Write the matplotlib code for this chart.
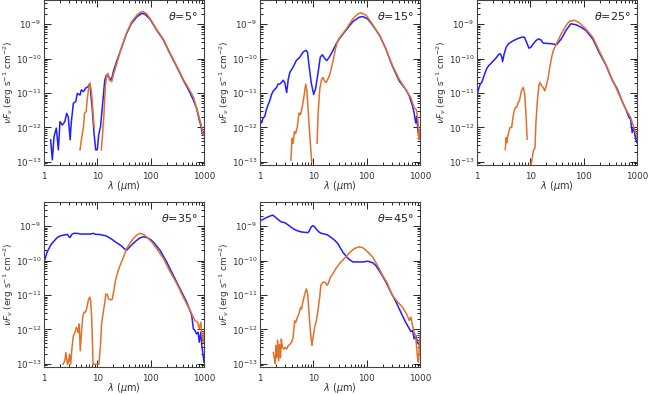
import numpy as np
import matplotlib
matplotlib.use("Agg")
import matplotlib.pyplot as plt
from matplotlib.ticker import LogLocator, NullFormatter, FixedFormatter, FixedLocator

nan = np.nan

# viewing angles, one panel each
angles = [5, 15, 25, 35, 45]

# log10(lambda / um) and log10(nuF_nu / erg s-1 cm-2)
p1_blue_x = [0.125, 0.156, 0.188, 0.231, 0.269, 0.30, 0.344, 0.39, 0.425, 0.456, 0.49, 0.51, 0.55, 0.594,
             0.625, 0.675, 0.70, 0.74, 0.78, 0.825, 0.86, 0.906, 0.938, 0.97, 1.0, 1.025, 1.06, 1.10, 1.14,
             1.17, 1.21, 1.25, 1.28, 1.30, 1.36, 1.46, 1.55, 1.64, 1.74, 1.83, 1.89, 1.99, 2.11, 2.24, 2.36,
             2.49, 2.61, 2.71, 2.80, 2.86, 2.91, 2.94, 2.975]
p1_blue_y = [-12.36, -12.94, -12.27, -12.02, -12.65, -11.83, -11.93, -11.83, -11.59, -11.70, -12.36, -11.88,
             -11.30, -11.25, -11.01, -11.06, -10.91, -10.96, -10.86, -10.82, -10.72, -11.49, -12.17, -12.65,
             -12.65, -12.22, -11.98, -11.30, -10.62, -10.48, -10.53, -10.62, -10.53, -10.38, -10.09, -9.66,
             -9.27, -8.98, -8.79, -8.69, -8.71, -8.86, -9.17, -9.46, -9.85, -10.24, -10.62, -10.91, -11.20,
             -11.44, -11.78, -11.93, -12.22]
p1_orng_x = [0.675, 0.706, 0.74, 0.76, 0.79, 0.81, 0.84, 0.86, 0.89, 0.92, 0.94, nan,
             1.075, 1.10, 1.125, 1.15, 1.175, 1.20, 1.225, 1.27, 1.30, 1.46, 1.55, 1.64, 1.74, 1.80, 1.86,
             1.92, 1.99, 2.11, 2.24, 2.36, 2.49, 2.61, 2.71, 2.80, 2.89, 2.94, 2.99, 3.0]
p1_orng_y = [-12.65, -12.31, -11.98, -11.59, -11.54, -11.20, -10.82, -10.72, -10.96, -11.59, -11.98, nan,
             -12.65, -12.17, -11.59, -10.82, -10.48, -10.43, -10.62, -10.67, -10.48, -9.64, -9.25, -8.94,
             -8.74, -8.66, -8.64, -8.69, -8.84, -9.15, -9.44, -9.83, -10.22, -10.60, -10.86, -11.11, -11.59,
             -11.88, -12.22, -12.15]

p2_blue_x = [0.0, 0.03, 0.06, 0.09, 0.12, 0.155, 0.19, 0.217, 0.25, 0.28, 0.31, 0.34, 0.37, 0.40, 0.435,
             0.465, 0.50, 0.53, 0.56, 0.62, 0.68, 0.745, 0.81, 0.86, 0.89, 0.92, 0.96, 1.006, 1.04, 1.09,
             1.13, 1.17, 1.21, 1.25, 1.30, 1.37, 1.43, 1.49, 1.61, 1.74, 1.86, 1.93, 2.02, 2.11, 2.24, 2.36,
             2.48, 2.61, 2.73, 2.80, 2.86, 2.89, 2.92, 2.94, 2.96, 2.98, 3.0]
p2_blue_y = [-11.77, -11.87, -11.72, -11.68, -11.48, -11.33, -11.19, -11.04, -10.94, -10.89, -10.84, -10.74,
             -10.74, -10.70, -10.63, -10.70, -10.99, -10.60, -10.40, -10.25, -10.06, -9.96, -9.81, -9.76,
             -9.81, -10.21, -10.70, -11.04, -10.89, -10.40, -9.96, -9.89, -9.99, -10.06, -9.96, -9.76, -9.57,
             -9.42, -9.18, -8.93, -8.80, -8.78, -8.85, -9.03, -9.32, -9.72, -10.21, -10.65, -10.89, -11.09,
             -11.38, -11.58, -11.87, -11.68, -12.07, -12.22, -12.17]
p2_orng_x = [0.58, 0.60, 0.62, 0.646, 0.67, 0.70, 0.73, 0.76, 0.795, 0.83, 0.857, 0.88, 0.91, 0.944, 0.97, nan,
             1.07, 1.09, 1.12, 1.155, 1.18, 1.21, 1.24, 1.27, 1.30, 1.335, 1.37, 1.416, 1.46, 1.49, 1.61, 1.74,
             1.83, 1.89, 1.99, 2.11, 2.24, 2.36, 2.48, 2.61, 2.73, 2.83, 2.89, 2.93, 2.96, 2.98, 3.0]
p2_orng_y = [-12.95, -12.31, -12.46, -12.12, -12.17, -11.98, -11.58, -11.63, -11.38, -11.04, -10.74, -10.94,
             -11.68, -12.46, -13.0, nan,
             -12.46, -11.58, -10.89, -10.60, -10.55, -10.65, -10.70, -10.60, -10.50, -10.30, -10.06, -9.71,
             -9.47, -9.40, -9.16, -8.85, -8.71, -8.67, -8.74, -9.01, -9.32, -9.72, -10.19, -10.60, -10.89,
             -11.14, -11.43, -11.48, -11.77, -12.36, -12.07]

p3_blue_x = [0.0, 0.03, 0.06, 0.09, 0.12, 0.155, 0.186, 0.217, 0.25, 0.28, 0.31, 0.34, 0.37, 0.40, 0.435,
             0.466, 0.48, 0.51, 0.547, 0.59, 0.65, 0.71, 0.78, 0.84, 0.89, 0.93, 0.975, 1.01, 1.056, 1.105,
             1.15, 1.20, 1.24, 1.30, 1.40, 1.49, 1.58, 1.67, 1.76, 1.86, 1.95, 2.04, 2.17, 2.29, 2.42, 2.54,
             2.63, 2.73, 2.79, 2.85, 2.88, 2.91, 2.94, 2.975, 3.0]
p3_blue_y = [-11.08, -10.89, -10.74, -10.69, -10.55, -10.40, -10.28, -10.21, -10.16, -10.11, -10.06, -10.01,
             -9.96, -9.89, -9.86, -9.96, -10.09, -9.86, -9.67, -9.57, -9.51, -9.46, -9.41, -9.38, -9.38,
             -9.53, -9.70, -9.67, -9.57, -9.48, -9.43, -9.46, -9.55, -9.56, -9.57, -9.60, -9.43, -9.18,
             -8.99, -9.02, -9.09, -9.18, -9.43, -9.82, -10.20, -10.64, -10.88, -11.27, -11.47, -11.71, -11.76,
             -12.15, -12.00, -12.34, -12.44]
p3_orng_x = [0.53, 0.547, 0.56, 0.578, 0.60, 0.62, 0.65, 0.67, 0.696, 0.72, 0.745, 0.77, 0.795, 0.82, 0.845,
             0.87, 0.894, 0.92, 0.94, nan,
             1.0, 1.025, 1.056, 1.087, 1.105, 1.13, 1.16, 1.18, 1.21, 1.24, 1.27, 1.30, 1.335, 1.37, 1.40,
             1.43, 1.48, 1.58, 1.67, 1.73, 1.83, 1.92, 2.04, 2.17, 2.29, 2.42, 2.54, 2.66, 2.79, 2.88, 2.94,
             2.975, 3.0]
p3_orng_y = [-12.64, -12.30, -12.44, -12.25, -12.10, -12.00, -12.00, -11.76, -11.52, -11.42, -11.42, -11.27,
             -11.23, -11.03, -10.89, -10.84, -11.03, -11.66, -12.34, nan,
             -13.2, -12.98, -12.68, -12.59, -11.86, -11.27, -10.79, -10.69, -10.79, -10.84, -10.94, -10.79,
             -10.55, -10.21, -9.96, -9.77, -9.60, -9.28, -9.04, -8.92, -8.89, -8.96, -9.14, -9.38, -9.77,
             -10.18, -10.62, -11.03, -11.47, -11.71, -12.00, -12.15, -12.29]

p4_blue_x = [0.0, 0.03, 0.06, 0.094, 0.125, 0.19, 0.25, 0.31, 0.375, 0.44, 0.47, 0.49, 0.52, 0.56, 0.625,
             0.69, 0.75, 0.81, 0.875, 0.925, 0.97, 1.03, 1.09, 1.16, 1.22, 1.28, 1.34, 1.41, 1.47, 1.50,
             1.55, 1.61, 1.675, 1.74, 1.80, 1.86, 1.925, 1.99, 2.05, 2.175, 2.30, 2.425, 2.55, 2.675, 2.77,
             2.80, 2.83, 2.86, 2.89, 2.91, 2.94, 2.96, 2.975, 3.0]
p4_blue_y = [-10.04, -9.90, -9.75, -9.65, -9.55, -9.43, -9.33, -9.28, -9.26, -9.24, -9.31, -9.33, -9.24,
             -9.21, -9.21, -9.23, -9.23, -9.23, -9.23, -9.21, -9.24, -9.24, -9.26, -9.28, -9.33, -9.39,
             -9.46, -9.53, -9.60, -9.65, -9.70, -9.60, -9.50, -9.41, -9.34, -9.31, -9.33, -9.38, -9.46,
             -9.70, -10.04, -10.43, -10.82, -11.20, -11.59, -11.98, -12.03, -12.13, -12.08, -12.37, -12.08,
             -12.47, -12.66, -12.95]
p4_orng_x = [0.356, 0.39, 0.41, 0.44, 0.456, 0.48, 0.50, 0.525, 0.55, 0.58, 0.606, 0.625, 0.644, 0.66, 0.68,
             0.70, 0.725, 0.75, 0.775, 0.80, 0.83, 0.856, 0.875, 0.894, 0.92, 1.03, 1.06, 1.08, 1.106, 1.14,
             1.16, 1.19, 1.21, 1.25, 1.28, 1.31, 1.34, 1.39, 1.44, 1.49, 1.55, 1.61, 1.675, 1.74, 1.80,
             1.86, 1.925, 2.02, 2.11, 2.24, 2.36, 2.49, 2.61, 2.74, 2.83, 2.88, 2.91, 2.94, 2.96, 2.99, 3.0]
p4_orng_y = [-13.01, -12.91, -12.67, -13.01, -12.96, -12.72, -13.01, -12.53, -12.19, -12.09, -11.94, -11.99,
             -12.09, -11.84, -12.62, -12.14, -11.65, -11.50, -11.50, -11.40, -11.16, -11.06, -11.16, -11.65,
             -13.01, -13.01, -12.43, -11.84, -11.55, -11.21, -10.97, -10.99, -11.12, -11.14, -11.12, -10.87,
             -10.58, -10.29, -10.09, -9.90, -9.65, -9.50, -9.36, -9.26, -9.21, -9.24, -9.31, -9.46, -9.65,
             -9.94, -10.31, -10.67, -11.06, -11.45, -11.74, -11.79, -11.98, -11.79, -12.17, -12.37, -12.08]

p5_blue_x = [0.0, 0.062, 0.124, 0.186, 0.236, 0.28, 0.34, 0.40, 0.466, 0.53, 0.59, 0.65, 0.71, 0.776, 0.84,
             0.90, 0.93, 0.96, 0.99, 1.025, 1.056, 1.105, 1.15, 1.21, 1.27, 1.335, 1.40, 1.46, 1.55, 1.65,
             1.74, 1.83, 1.93, 2.02, 2.11, 2.17, 2.27, 2.36, 2.45, 2.55, 2.64, 2.73, 2.80, 2.83, 2.86, 2.89,
             2.92, 2.95, 2.98, 3.0]
p5_blue_y = [-8.85, -8.80, -8.75, -8.71, -8.68, -8.73, -8.81, -8.88, -8.90, -8.97, -9.04, -9.10, -9.14,
             -9.17, -9.18, -9.19, -9.12, -9.02, -8.99, -9.02, -9.09, -9.17, -9.21, -9.23, -9.26, -9.33,
             -9.41, -9.51, -9.75, -9.94, -10.04, -10.04, -10.04, -10.02, -10.06, -10.14, -10.38, -10.62,
             -10.91, -11.20, -11.50, -11.79, -11.98, -12.06, -12.03, -12.27, -12.17, -12.37, -12.42, -12.51]
p5_orng_x = [0.25, 0.267, 0.286, 0.30, 0.31, 0.33, 0.35, 0.366, 0.385, 0.40, 0.42, 0.447, 0.47, 0.50, 0.53,
             0.56, 0.59, 0.62, 0.65, 0.67, 0.70, 0.73, 0.76, 0.78, 0.81, 0.84, 0.87, 0.894, 0.92, 0.95,
             0.975, 0.99, 1.025, 1.056, 1.087, 1.12, 1.14, 1.18, 1.22, 1.26, 1.29, 1.32, 1.37, 1.42, 1.49,
             1.58, 1.68, 1.77, 1.86, 1.93, 2.02, 2.11, 2.20, 2.30, 2.39, 2.48, 2.58, 2.67, 2.745, 2.80, 2.83,
             2.86, 2.89, 2.92, 2.95, 2.97, 3.0]
p5_orng_y = [-12.67, -12.82, -12.99, -12.47, -12.82, -12.31, -12.91, -12.43, -12.82, -12.28, -12.52, -12.57,
             -12.52, -12.57, -12.47, -12.43, -12.38, -12.23, -11.75, -11.80, -11.65, -11.55, -11.36, -11.41,
             -11.16, -10.97, -10.82, -10.97, -11.55, -12.14, -12.47, -12.28, -11.94, -11.75, -11.45, -11.06,
             -10.72, -10.63, -10.63, -10.72, -10.63, -10.48, -10.38, -10.24, -10.09, -9.94, -9.77, -9.65,
             -9.60, -9.63, -9.75, -9.89, -10.14, -10.43, -10.67, -11.01, -11.20, -11.35, -11.54, -11.74,
             -11.64, -11.88, -12.08, -12.22, -12.76, -12.95, -12.17]

blue_series = [(p1_blue_x, p1_blue_y), (p2_blue_x, p2_blue_y), (p3_blue_x, p3_blue_y),
               (p4_blue_x, p4_blue_y), (p5_blue_x, p5_blue_y)]
orng_series = [(p1_orng_x, p1_orng_y), (p2_orng_x, p2_orng_y), (p3_orng_x, p3_orng_y),
               (p4_orng_x, p4_orng_y), (p5_orng_x, p5_orng_y)]

plt.rcParams["font.family"] = ["DejaVu Sans"]
plt.rcParams["mathtext.fontset"] = "dejavusans"

fig = plt.figure(figsize=(6.49, 3.95), dpi=100)

W, H = 649.0, 395.0
lefts = [44, 260, 477, 44, 260]
tops = [0, 0, 0, 202, 202]
aw, ah = 160, 165

text_col = "#333333"

for i in range(5):
    ax = fig.add_axes([lefts[i] / W, 1 - (tops[i] + ah) / H, aw / W, ah / H])
    bx, by = blue_series[i]
    ox, oy = orng_series[i]
    ax.plot(10 ** np.array(bx), 10 ** np.array(by), color="#1f1fff", lw=1.1)
    ax.plot(10 ** np.array(ox), 10 ** np.array(oy), color="#e0712c", lw=1.1)

    ax.set_xscale("log")
    ax.set_yscale("log")
    ax.set_xlim(1, 1000)
    ax.set_ylim(10 ** -13.09, 10 ** -8.3)

    ax.xaxis.set_major_locator(FixedLocator([1, 10, 100, 1000]))
    ax.xaxis.set_major_formatter(FixedFormatter(["1", "10", "100", "1000"]))
    ax.xaxis.set_minor_locator(LogLocator(base=10, subs=np.arange(2, 10)))
    ax.xaxis.set_minor_formatter(NullFormatter())
    ax.yaxis.set_major_locator(FixedLocator([1e-13, 1e-12, 1e-11, 1e-10, 1e-9]))
    ax.yaxis.set_major_formatter(FixedFormatter([r"10$^{-13}$", r"10$^{-12}$", r"10$^{-11}$",
                                                 r"10$^{-10}$", r"10$^{-9}$"]))
    ax.yaxis.set_minor_locator(LogLocator(base=10, subs=np.arange(2, 10)))
    ax.yaxis.set_minor_formatter(NullFormatter())

    ax.tick_params(which="both", direction="in", top=True, right=True, labelsize=6.3,
                   labelcolor=text_col, width=0.6)
    ax.tick_params(which="major", length=5)
    ax.tick_params(which="minor", length=2.5)
    ax.tick_params(axis="x", pad=5)
    ax.tick_params(axis="y", pad=2)
    for s in ax.spines.values():
        s.set_linewidth(0.8)
        s.set_color("#444444")

    ax.set_xlabel(r"$\lambda$ ($\mu$m)", fontsize=7, color=text_col)
    ax.set_ylabel(r"$\nu F_\nu$ (erg s$^{-1}$ cm$^{-2}$)", fontsize=6.5, color=text_col)
    ax.xaxis.set_label_coords(0.5, -0.085)
    ax.yaxis.set_label_coords(-0.175, 0.5)
    ax.text(0.96, 0.94, r"$\theta$=%d°" % angles[i], transform=ax.transAxes, ha="right", va="top",
            fontsize=8, color="#222222")

fig.savefig("out.png", dpi=100)
